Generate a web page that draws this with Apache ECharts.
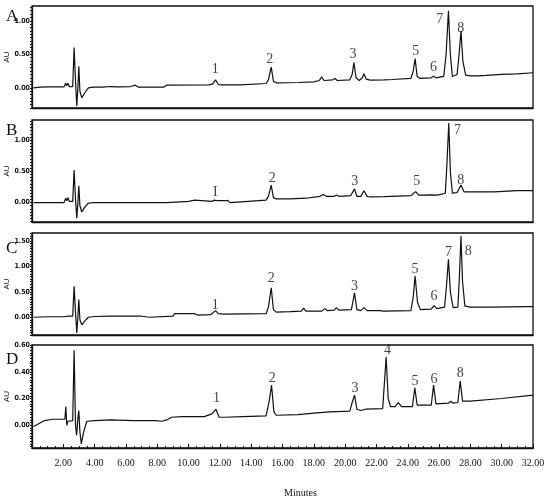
<!DOCTYPE html>
<html><head><meta charset="utf-8">
<script src="https://cdn.jsdelivr.net/npm/echarts@6/dist/echarts.min.js"></script>
<style>html,body{margin:0;padding:0;background:#fff}#c{width:550px;height:500px}</style>
</head><body><div id="c"></div>
<script>
// Chromatogram traces: [minutes, AU]
const traceA = [[0.1,0.0],[0.5,0.01],[1.0,0.015],[2.05,0.015],[2.15,0.07],[2.22,0.03],[2.3,0.07],[2.38,0.02],[2.6,0.02],[2.69,0.6],[2.78,0.1],[2.86,-0.27],[2.93,0.0],[2.99,0.32],[3.06,-0.05],[3.18,-0.15],[3.35,-0.08],[3.6,0.0],[3.9,0.01],[4.5,0.01],[5.0,0.02],[5.5,0.015],[6.3,0.02],[6.6,0.04],[6.8,0.01],[8.4,0.01],[8.6,0.04],[11.3,0.045],[11.55,0.06],[11.72,0.12],[11.9,0.05],[12.1,0.045],[13.3,0.045],[13.35,0.06],[14.95,0.065],[15.1,0.12],[15.28,0.31],[15.42,0.1],[15.6,0.075],[17.0,0.08],[18.0,0.09],[18.35,0.11],[18.5,0.165],[18.65,0.11],[19.2,0.12],[19.35,0.14],[19.5,0.11],[20.3,0.12],[20.45,0.2],[20.56,0.375],[20.7,0.15],[20.9,0.11],[21.1,0.15],[21.2,0.21],[21.35,0.13],[21.6,0.115],[22.5,0.12],[23.0,0.125],[24.2,0.14],[24.35,0.25],[24.47,0.435],[24.6,0.17],[24.8,0.14],[25.5,0.15],[25.64,0.175],[25.8,0.15],[26.3,0.17],[26.45,0.5],[26.6,1.15],[26.72,0.5],[26.85,0.17],[27.15,0.2],[27.28,0.5],[27.4,0.85],[27.52,0.4],[27.7,0.19],[28.0,0.18],[28.5,0.18],[29.0,0.185],[30.0,0.2],[31.0,0.21],[32.0,0.225]];
const traceB = [[0.1,0.0],[1.0,0.0],[2.05,0.0],[2.15,0.07],[2.22,0.03],[2.3,0.08],[2.38,0.02],[2.6,0.02],[2.69,0.52],[2.78,0.05],[2.86,-0.25],[2.93,0.0],[2.99,0.27],[3.06,-0.05],[3.18,-0.15],[3.35,-0.08],[3.6,-0.01],[3.9,0.0],[5.0,0.0],[5.6,0.0],[5.65,0.02],[5.7,0.0],[8.6,0.0],[8.65,0.02],[10.0,0.02],[10.1,0.05],[10.4,0.04],[10.5,0.02],[11.5,0.02],[11.65,0.04],[11.85,0.03],[12.3,0.03],[12.4,0.0],[12.5,0.035],[12.65,0.0],[12.75,0.03],[14.95,0.04],[15.1,0.1],[15.28,0.28],[15.42,0.08],[15.6,0.06],[16.5,0.06],[17.5,0.07],[18.4,0.1],[18.6,0.13],[18.8,0.1],[19.3,0.1],[19.45,0.12],[19.6,0.1],[20.35,0.11],[20.6,0.22],[20.75,0.1],[21.0,0.1],[21.2,0.19],[21.4,0.1],[21.6,0.09],[22.5,0.095],[24.2,0.11],[24.5,0.175],[24.7,0.12],[25.5,0.125],[25.9,0.12],[26.0,0.14],[26.4,0.15],[26.5,0.6],[26.62,1.27],[26.72,0.5],[26.85,0.15],[27.15,0.16],[27.4,0.28],[27.6,0.17],[28.0,0.17],[29.5,0.17],[29.6,0.19],[31.0,0.19],[32.0,0.19]];
const traceC = [[0.1,0.0],[1.0,0.01],[2.05,0.01],[2.15,0.04],[2.25,0.02],[2.32,0.05],[2.4,0.02],[2.6,0.02],[2.69,0.61],[2.78,0.1],[2.86,-0.31],[2.93,0.0],[2.99,0.35],[3.06,-0.05],[3.18,-0.15],[3.35,-0.08],[3.6,0.0],[4.0,0.015],[5.0,0.02],[6.0,0.02],[7.0,0.02],[7.5,0.0],[7.6,0.02],[9.0,0.02],[9.1,0.07],[10.4,0.07],[10.6,0.04],[11.4,0.05],[11.72,0.13],[11.9,0.07],[12.2,0.06],[14.95,0.07],[15.1,0.2],[15.28,0.58],[15.42,0.15],[15.6,0.1],[16.5,0.11],[17.2,0.12],[17.35,0.18],[17.5,0.12],[18.5,0.12],[18.7,0.17],[18.85,0.13],[19.3,0.14],[19.45,0.19],[19.6,0.14],[20.4,0.15],[20.6,0.48],[20.75,0.15],[21.0,0.13],[21.2,0.19],[21.4,0.13],[22.2,0.13],[22.3,0.16],[22.45,0.12],[24.2,0.13],[24.35,0.4],[24.47,0.81],[24.62,0.3],[24.8,0.15],[25.5,0.16],[25.68,0.23],[25.85,0.17],[26.35,0.2],[26.47,0.6],[26.6,1.14],[26.72,0.5],[26.9,0.19],[27.2,0.2],[27.3,0.8],[27.4,1.6],[27.5,0.7],[27.65,0.22],[28.0,0.2],[29.2,0.2],[29.3,0.23],[29.45,0.2],[31.5,0.21],[31.6,0.24],[31.7,0.21],[32.0,0.21]];
const traceD = [[0.1,-0.01],[0.4,0.01],[0.8,0.035],[1.3,0.045],[2.1,0.045],[2.16,0.14],[2.22,0.0],[2.28,0.03],[2.6,0.035],[2.69,0.56],[2.78,0.0],[2.85,-0.075],[2.93,0.05],[2.99,0.11],[3.06,-0.05],[3.15,-0.14],[3.3,-0.05],[3.5,0.03],[4.0,0.035],[5.0,0.04],[5.1,0.03],[6.5,0.035],[7.6,0.035],[7.7,0.025],[7.9,0.035],[8.0,0.025],[8.3,0.03],[8.6,0.04],[8.9,0.06],[9.6,0.065],[9.7,0.075],[9.8,0.065],[11.0,0.065],[11.5,0.085],[11.75,0.12],[11.95,0.06],[12.3,0.06],[13.5,0.065],[14.95,0.07],[15.15,0.18],[15.3,0.30],[15.45,0.1],[15.6,0.075],[17.0,0.08],[18.0,0.09],[19.0,0.1],[20.3,0.105],[20.45,0.17],[20.6,0.225],[20.75,0.12],[21.0,0.11],[21.3,0.12],[22.4,0.125],[22.5,0.3],[22.62,0.51],[22.75,0.2],[22.9,0.14],[23.2,0.14],[23.4,0.17],[23.6,0.14],[24.3,0.14],[24.45,0.28],[24.6,0.15],[25.5,0.15],[25.65,0.30],[25.8,0.16],[26.6,0.165],[26.75,0.18],[26.9,0.165],[27.2,0.17],[27.35,0.33],[27.5,0.18],[28.0,0.18],[30.0,0.2],[32.0,0.225]];

// Peak labels: [minutes, AU, text]
const peaksA = [[11.71,0.275,'1'],[15.19,0.425,'2'],[20.5,0.5,'3'],[24.51,0.55,'5'],[25.64,0.30,'6'],[26.05,1.025,'7'],[27.39,0.885,'8']];
const peaksB = [[11.71,0.166,'I'],[15.34,0.39,'2'],[20.61,0.335,'3'],[24.58,0.335,'5'],[27.18,1.16,'7'],[27.39,0.36,'8']];
const peaksC = [[11.71,0.237,'1'],[15.28,0.775,'2'],[20.6,0.61,'3'],[24.47,0.94,'5'],[25.68,0.414,'6'],[26.6,1.27,'7'],[27.87,1.30,'8']];
const peaksD = [[11.78,0.20,'1'],[15.34,0.35,'2'],[20.63,0.275,'3'],[22.7,0.56,'4'],[24.47,0.325,'5'],[25.68,0.343,'6'],[27.35,0.39,'8']];

const panelNames = ['A','B','C','D'];
const yRanges = [[-0.3,1.22],[-0.31,1.32],[-0.35,1.66],[-0.17,0.6]];
const yLabelValues = [[0,0.5,1.0],[0,0.5,1.0],[0,0.5,1.0,1.5],[0,0.2,0.4,0.6]];
const yTickSteps = [0.05,0.05,0.05,0.02];
const xTickLabels = [2,4,6,8,10,12,14,16,18,20,22,24,26,28,30,32];
const xLabel = 'Minutes';
const yLabel = 'AU';

const traces = [traceA, traceB, traceC, traceD];
const peaks = [peaksA, peaksB, peaksC, peaksD];
const gridTops = [6,120,233,345];
const gridHeights = [102,102,102,103];
const titleTops = [8,122,240,351];
const serif = 'Liberation Serif, Times New Roman, serif';

function tickVals(min, max, step){
  const out=[]; const start=Math.ceil(min/step-1e-9);
  for(let k=start;k*step<=max+1e-9;k++){ out.push(+(k*step).toFixed(4)); }
  return out;
}

const grid=[], xAxis=[], yAxis=[], series=[], title=[];
for(let i=0;i<4;i++){
  grid.push({left:32,right:17,top:gridTops[i],height:gridHeights[i],show:true,borderColor:'#111',borderWidth:1.3,
    containLabel:false,outerBoundsMode:'none'});
  const isLast = i===3;
  xAxis.push({type:'value',gridIndex:i,min:0,max:32,interval:2,
    axisLine:{show:true,onZero:false,lineStyle:{color:'#111',width:1.3}},
    axisTick:{show:isLast,inside:true,length:4,lineStyle:{color:'#111'}},
    minorTick:{show:isLast,splitNumber:4,length:2,lineStyle:{color:'#111'}},
    splitLine:{show:false},
    axisLabel:{show:isLast,fontFamily:serif,fontSize:10,color:'#111',margin:10,
      customValues:xTickLabels,formatter:v=>v.toFixed(2)},
    name:isLast?xLabel:'',nameLocation:'middle',nameGap:40,
    nameTextStyle:{fontFamily:serif,fontSize:10,color:'#111',padding:[0,0,0,36]}
  });
  yAxis.push({type:'value',gridIndex:i,min:yRanges[i][0],max:yRanges[i][1],
    axisLine:{show:true,onZero:false,lineStyle:{color:'#111',width:1.3}},
    axisTick:{show:true,length:2,customValues:tickVals(yRanges[i][0],yRanges[i][1],yTickSteps[i]),lineStyle:{color:'#111'}},
    splitLine:{show:false},
    axisLabel:{show:true,customValues:yLabelValues[i],formatter:v=>v.toFixed(2),hideOverlap:false,
      fontFamily:'Liberation Sans Narrow, DejaVu Sans Condensed, sans-serif',fontSize:7,fontWeight:'bold',color:'#111',margin:2},
    name:yLabel,nameLocation:'middle',nameRotate:90,nameGap:21,nameMoveOverlap:false,
    nameTextStyle:{fontFamily:'Liberation Sans Narrow, sans-serif',fontSize:8,color:'#111'}
  });
  series.push({type:'line',xAxisIndex:i,yAxisIndex:i,data:traces[i],symbol:'none',
    lineStyle:{color:'#111',width:1.2},silent:true,animation:false});
  series.push({type:'scatter',xAxisIndex:i,yAxisIndex:i,data:peaks[i],symbolSize:1,
    itemStyle:{color:'rgba(0,0,0,0)'},encode:{x:0,y:1},silent:true,animation:false,
    label:{show:true,position:'inside',formatter:p=>p.value[2],fontFamily:serif,fontSize:14,color:'#111'}});
  title.push({text:panelNames[i],left:6,top:titleTops[i],padding:0,
    textStyle:{fontFamily:serif,fontSize:17,fontWeight:'normal',color:'#111'}});
}

const chart = echarts.init(document.getElementById('c'),null,{renderer:'canvas'});
chart.setOption({animation:false,backgroundColor:'#fff',title,grid,xAxis,yAxis,series});
</script></body></html>
